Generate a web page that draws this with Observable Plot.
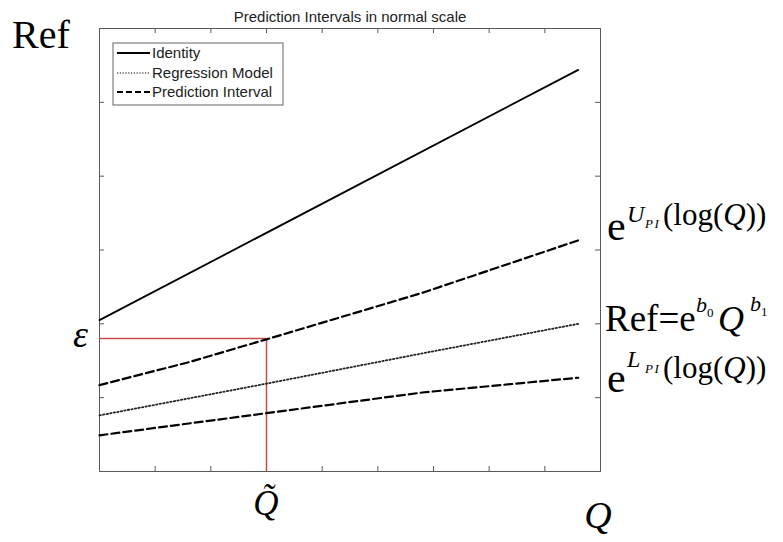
<!DOCTYPE html>
<html><head><meta charset="utf-8">
<script src="https://cdn.jsdelivr.net/npm/d3@7"></script>
<script src="https://cdn.jsdelivr.net/npm/@observablehq/plot@0.6"></script>
<style>html,body{margin:0;padding:0;background:#fff;} svg{display:block}</style>
</head><body><div id="chart"></div>
<script>
// ---- data ----
const title = "Prediction Intervals in normal scale";
const legendLabels = ["Identity", "Regression Model", "Prediction Interval"];
const xTicks = [1, 2, 3, 4, 5, 6, 7, 8];
const yTicks = [1, 2, 3, 4, 5];
const identityQ = [0, 8.6];
const identityRef = [2.05, 5.44];
const upperQ = [0, 1.6, 3, 5.8, 8.6];
const upperRef = [1.17, 1.48, 1.79, 2.42, 3.13];
const regQ = [0, 3, 5.8, 8.6];
const regRef = [0.76, 1.19, 1.60, 2.00];
const lowerQ = [0, 3, 5.8, 8.6];
const lowerRef = [0.49, 0.79, 1.07, 1.27];
const qTilde = 3;
const epsilon = 1.80;

// ---- build ----
const W = 783, H = 542, mL = 99, mR = 183, mT = 28, mB = 71;
const innerW = W - mL - mR, innerH = H - mT - mB, tk = 5;
const toRows = (qs, rs) => qs.map((q, i) => ({q, r: rs[i]}));
const identity = toRows(identityQ, identityRef);
const upper = toRows(upperQ, upperRef);
const reg = toRows(regQ, regRef);
const lower = toRows(lowerQ, lowerRef);
const red = "#cc4a4a", axisCol = "#5a5a5a";
const dashPI = "8,4", dotReg = "1.4,2.2";

const chart = Plot.plot({
  width: W, height: H, marginLeft: mL, marginRight: mR, marginTop: mT, marginBottom: mB,
  x: {domain: [0, 9], axis: null},
  y: {domain: [0, 6], axis: null},
  style: {fontFamily: "'Liberation Sans', Arial, sans-serif", background: "white", overflow: "visible"},
  marks: [
    Plot.frame({stroke: axisCol}),
    Plot.ruleX(xTicks, {x: d => d, insetTop: innerH - tk, stroke: axisCol}),
    Plot.ruleX(xTicks, {x: d => d, insetBottom: innerH - tk, stroke: axisCol}),
    Plot.ruleY(yTicks, {y: d => d, insetRight: innerW - tk, stroke: axisCol}),
    Plot.ruleY(yTicks, {y: d => d, insetLeft: innerW - tk, stroke: axisCol}),
    Plot.ruleY([epsilon], {y: d => d, x1: 0, x2: qTilde, stroke: red, strokeWidth: 1.5}),
    Plot.ruleX([qTilde], {x: d => d, y1: 0, y2: epsilon, stroke: red, strokeWidth: 1.5}),
    Plot.line(identity, {x: "q", y: "r", stroke: "black", strokeWidth: 1.8}),
    Plot.line(reg, {x: "q", y: "r", stroke: "#222", strokeWidth: 1.8, strokeDasharray: dotReg}),
    Plot.line(upper, {x: "q", y: "r", stroke: "black", strokeWidth: 2.2, strokeDasharray: dashPI}),
    Plot.line(lower, {x: "q", y: "r", stroke: "black", strokeWidth: 2.2, strokeDasharray: dashPI}),
    Plot.text([title], {frameAnchor: "top", dy: -17, fontSize: 15, fill: "#222"})
  ]
});
document.getElementById("chart").appendChild(chart);

const svg = d3.select(chart);
const sx = chart.scale("x"), sy = chart.scale("y");
const serif = "'Liberation Serif', 'Times New Roman', serif";

// legend
const lg = svg.append("g").attr("font-family", "'Liberation Sans', Arial, sans-serif").attr("text-anchor", "start");
lg.append("rect").attr("x", 113).attr("y", 43).attr("width", 170).attr("height", 62)
  .attr("fill", "white").attr("stroke", "#666");
const legStyles = [
  {w: 1.8, d: null, c: "black"},
  {w: 1.5, d: "1.2,1.6", c: "#555"},
  {w: 2, d: "6,3", c: "black"}
];
const rowsY = [53, 73, 92];
legendLabels.forEach((lab, i) => {
  lg.append("line").attr("x1", 117).attr("x2", 150).attr("y1", rowsY[i]).attr("y2", rowsY[i])
    .attr("stroke", legStyles[i].c).attr("stroke-width", legStyles[i].w)
    .attr("stroke-dasharray", legStyles[i].d);
  lg.append("text").attr("x", 152).attr("y", rowsY[i]).attr("dy", "0.35em")
    .attr("font-size", 15).attr("fill", "#222").text(lab);
});

// annotations
const ann = svg.append("g").attr("font-family", serif).attr("fill", "black").attr("text-anchor", "start");
const x0 = sx.apply(0), xR = sx.apply(9), yB = sy.apply(0);
ann.append("text").attr("x", 12).attr("y", 48).attr("font-size", 40).text("Ref");
ann.append("text").attr("x", x0 - 11).attr("y", sy.apply(epsilon) + 9).attr("text-anchor", "end")
  .attr("font-size", 38).attr("font-style", "italic").text("\u03B5");
ann.append("text").attr("x", sx.apply(qTilde)).attr("y", yB + 44).attr("text-anchor", "middle")
  .attr("font-size", 35).attr("font-style", "italic").text("Q\u0303");
ann.append("text").attr("x", xR - 2).attr("y", yB + 57).attr("text-anchor", "middle")
  .attr("font-size", 38).attr("font-style", "italic").text("Q");

function piLabel(letter, base, supDy, superBase) {
  const t = ann.append("text").attr("y", base);
  t.append("tspan").attr("x", xR + 7).attr("y", base).attr("font-size", 42).text("e");
  t.append("tspan").attr("x", xR + 27).attr("y", base + supDy).attr("font-size", 24).attr("font-style", "italic").text(letter);
  t.append("tspan").attr("x", xR + 45).attr("y", base + supDy + 6).attr("font-size", 13).attr("font-style", "italic").attr("letter-spacing", 1.5).text("PI");
  t.append("tspan").attr("x", xR + 63).attr("y", base + superBase).attr("font-size", 31).attr("letter-spacing", 0).text("(log(");
  t.append("tspan").attr("font-size", 31).attr("font-style", "italic").text("Q");
  t.append("tspan").attr("font-size", 31).attr("font-style", "normal").text("))");
}
const uEnd = sy.apply(upperRef[upperRef.length - 1]);
const rEnd = sy.apply(regRef[regRef.length - 1]);
const lEnd = sy.apply(lowerRef[lowerRef.length - 1]);
piLabel("U", uEnd, -18, -15);
piLabel("L", lEnd + 15, -25, -14);

const rb = rEnd + 8;
const rt = ann.append("text").attr("y", rb);
rt.append("tspan").attr("x", xR + 5).attr("y", rb).attr("font-size", 37).text("Ref=e");
rt.append("tspan").attr("x", xR + 96).attr("y", rb - 19).attr("font-size", 22).attr("font-style", "italic").text("b");
rt.append("tspan").attr("y", rb - 14).attr("font-size", 13).attr("font-style", "normal").text("0");
rt.append("tspan").attr("x", xR + 118).attr("y", rb).attr("font-size", 36).attr("font-style", "italic").text("Q");
rt.append("tspan").attr("x", xR + 150).attr("y", rb - 20).attr("font-size", 22).attr("font-style", "italic").text("b");
rt.append("tspan").attr("y", rb - 15).attr("font-size", 13).attr("font-style", "normal").text("1");
</script>
</body></html>
